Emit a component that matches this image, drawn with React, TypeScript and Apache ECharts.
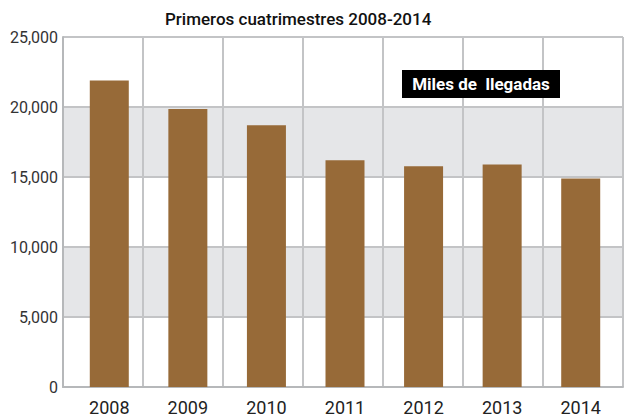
import React, { useEffect, useRef } from "react";
import * as echarts from "echarts";

const categories = ["2008", "2009", "2010", "2011", "2012", "2013", "2014"];
const arrivals = [21900, 19850, 18700, 16200, 15770, 15900, 14900];
const yTicks = { min: 0, max: 25000, interval: 5000 };
const titleText = "Primeros cuatrimestres 2008-2014";
const boxText = "Miles de  llegadas";

const FONT = "Roboto, 'Noto Sans', sans-serif";

export default function App() {
  const ref = useRef<HTMLDivElement>(null);
  useEffect(() => {
    if (!ref.current) return;
    const chart = echarts.init(ref.current, undefined, { renderer: "svg" });
    const gridLine = "#c3c4c6";
    chart.setOption({
      animation: false,
      backgroundColor: "#ffffff",
      title: {
        text: titleText,
        left: 160,
        top: 5,
        textStyle: { fontFamily: FONT, fontSize: 17, fontWeight: 500, color: "#111" },
      },
      grid: [
        { left: 63, top: 37, width: 560, height: 350 },
        { left: 70, top: 37, width: 550, height: 350 },
      ],
      xAxis: [
        {
          type: "category",
          gridIndex: 0,
          data: categories,
          axisLine: { show: true, lineStyle: { color: "#b6b8ba", width: 2 } },
          axisTick: { show: false },
          axisLabel: { show: false },
          splitLine: { show: true, lineStyle: { color: gridLine, width: 2 } },
        },
        {
          type: "category",
          gridIndex: 1,
          data: categories,
          axisLine: { show: false },
          axisTick: { show: false },
          axisLabel: { show: true, margin: 11, fontFamily: FONT, fontSize: 18, color: "#222" },
          splitLine: { show: false },
        },
      ],
      yAxis: [
        {
          type: "value",
          gridIndex: 0,
          min: yTicks.min,
          max: yTicks.max,
          interval: yTicks.interval,
          axisLine: { show: true, lineStyle: { color: "#b6b8ba", width: 2 } },
          axisTick: { show: false },
          axisLabel: { margin: 5, fontFamily: FONT, fontSize: 16, color: "#333" },
          splitLine: { show: true, lineStyle: { color: gridLine, width: 2 } },
          splitArea: { show: true, areaStyle: { color: ["#ffffff", "#e5e6e8"] } },
        },
        {
          type: "value",
          gridIndex: 1,
          min: yTicks.min,
          max: yTicks.max,
          interval: yTicks.interval,
          show: false,
        },
      ],
      series: [
        {
          type: "bar",
          xAxisIndex: 1,
          yAxisIndex: 1,
          data: arrivals,
          barWidth: 39,
          itemStyle: { color: "#976a38" },
        },
      ],
      graphic: [
        {
          type: "rect",
          z: 100,
          shape: { x: 402, y: 70, width: 158, height: 28 },
          style: { fill: "#000" },
        },
        {
          type: "text",
          z: 101,
          x: 481,
          y: 84,
          style: {
            text: boxText,
            fill: "#fff",
            fontFamily: FONT,
            fontSize: 17,
            fontWeight: "bold",
            align: "center",
            verticalAlign: "middle",
          },
        },
      ],
    });
    return () => chart.dispose();
  }, []);
  return (
    <div
      ref={ref}
      style={{ position: "fixed", left: 0, top: 0, width: 624, height: 417 }}
    />
  );
}
